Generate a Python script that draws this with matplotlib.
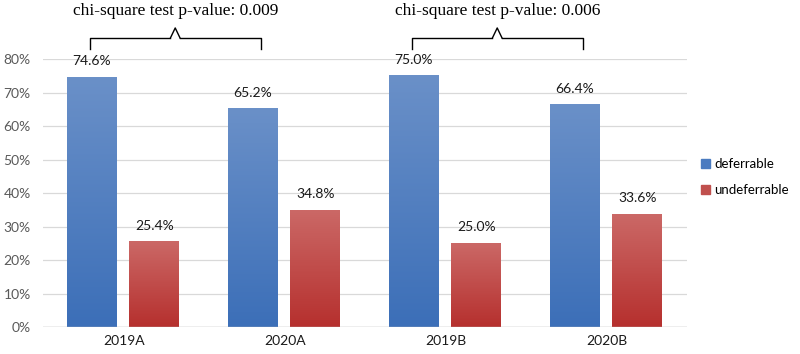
import numpy as np
import matplotlib.pyplot as plt
from matplotlib.colors import LinearSegmentedColormap
from matplotlib.patches import Patch

categories = ['2019A', '2020A', '2019B', '2020B']
deferrable = [74.6, 65.2, 75.0, 66.4]
undeferrable = [25.4, 34.8, 25.0, 33.6]
pvalues = ['0.009', '0.006']
yticks = [0, 10, 20, 30, 40, 50, 60, 70, 80]

plt.rcParams['font.family'] = ['Lato', 'DejaVu Sans']

fig = plt.figure(figsize=(8, 3.54), dpi=100)
ax = fig.add_axes([0.054, 0.076, 0.805, 0.757])

blue_cm = LinearSegmentedColormap.from_list('b', ['#3c6fb8', '#6a90c8'])
red_cm = LinearSegmentedColormap.from_list('r', ['#b6302e', '#cb6866'])

x = np.arange(len(categories))
w = 0.31
grad = np.linspace(0, 1, 100).reshape(-1, 1)
for xs, vals, cm in [(x - 0.2, deferrable, blue_cm), (x + 0.19, undeferrable, red_cm)]:
    bars = ax.bar(xs, vals, width=w, color='none', zorder=3)
    for b, v in zip(bars, vals):
        x0 = b.get_x()
        ax.imshow(grad, cmap=cm, origin='lower', aspect='auto',
                  extent=[x0, x0 + w, 0, v], zorder=3)
        ax.text(b.get_x() + w / 2, v + 3, f'{v:.1f}%', ha='center',
                va='bottom', fontsize=10, color='#1a1a1a')

ax.set_xlim(-0.5, 3.5)
ax.set_ylim(0, 80)
ax.set_yticks(yticks)
ax.set_yticklabels([f'{t}%' for t in yticks], color='#595959', fontsize=10)
ax.set_xticks(x)
ax.set_xticklabels(categories, fontsize=10, color='#1a1a1a')
ax.tick_params(length=0, pad=6)
ax.tick_params(axis='y', pad=9)
for s in ax.spines.values():
    s.set_visible(False)
ax.grid(axis='y', color='#d9d9d9', linewidth=0.9, zorder=0)
ax.axhline(0, color='#bfbfbf', linewidth=1, zorder=4)

# brackets with p-values
for i, p in zip([0, 2], pvalues):
    x1, x2 = i - 0.21, i + 0.85
    xm = (x1 + x2) / 2
    ax.plot([x1, x1, xm - 0.03], [83, 86.3, 86.3], color='black', lw=1, clip_on=False)
    ax.plot([x2, x2, xm + 0.03], [83, 86.3, 86.3], color='black', lw=1, clip_on=False)
    ax.plot([xm - 0.03, xm, xm + 0.03], [86.3, 89.3, 86.3], color='black', lw=1, clip_on=False)
    ax.text(xm, 94.3, f'chi-square test p-value: {p}', ha='center', va='center',
            fontsize=12.5, family='Liberation Serif', clip_on=False)

handles = [Patch(color='#4a7bc0', label='deferrable'),
           Patch(color='#c0504d', label='undeferrable')]
fig.legend(handles=handles, loc='center left', bbox_to_anchor=(0.868, 0.5),
           frameon=False, fontsize=9.5, handlelength=0.7, handleheight=0.7,
           handletextpad=0.3, labelspacing=1.1, borderpad=0)

fig.savefig('out.png', dpi=100)
